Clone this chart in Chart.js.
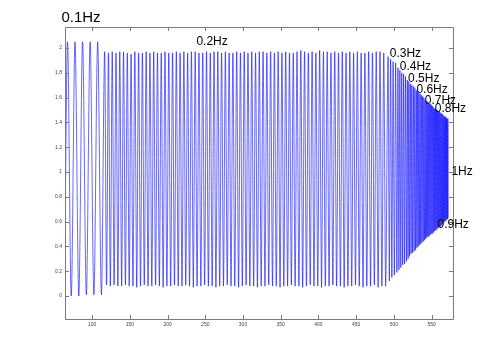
<!DOCTYPE html>
<html>
<head>
<meta charset="utf-8">
<script src="https://cdn.jsdelivr.net/npm/chart.js@4.4.1/dist/chart.umd.min.js"></script>
<style>
  html, body { margin: 0; padding: 0; background: #fff; }
  #wrap { width: 500px; height: 359px; }
</style>
</head>
<body>
<div id="wrap"><canvas id="chart" width="500" height="359"></canvas></div>
<script>
// frequency steps of the test signal, in the order they were played
const segFreq = [0.1, 0.2, 0.3, 0.4, 0.5, 0.6, 0.7, 0.8, 0.9, 1];
// x where each step starts (upward crossing before its first peak)
const segStart = [64.8, 115.35, 491.5, 504.83, 517.33, 529.33, 541.0, 552.43, 564.93, 569.37];

// peak / trough of every cycle
const segPeaks = [
  [2.05, 2.05, 2.05, 2.05, 2.05],
  [1.97, 1.96, 1.97, 1.96, 1.97, 1.97, 1.96, 1.95, 1.97, 1.96,
   1.96, 1.97, 1.96, 1.97, 1.96, 1.96, 1.97, 1.96, 1.96, 1.97,
   1.96, 1.97, 1.96, 1.97, 1.97, 1.96, 1.96, 1.97, 1.96, 1.97,
   1.97, 1.96, 1.97, 1.96, 1.96, 1.97, 1.96, 1.97, 1.96, 1.97,
   1.96, 1.97, 1.97, 1.96, 1.97, 1.96, 1.97, 1.96, 1.97, 1.96,
   1.96, 1.97, 1.98, 1.97, 1.96, 1.97, 1.96, 1.98, 1.97, 1.97,
   1.96, 1.97, 1.96, 1.97, 1.96, 1.97, 1.96, 1.97, 1.96, 1.96,
   1.97, 1.96, 1.97, 1.97, 1.96],
  [1.93, 1.91, 1.89, 1.88],
  [1.84, 1.82, 1.80, 1.79, 1.77],
  [1.74, 1.73, 1.71, 1.70, 1.69, 1.68],
  [1.66, 1.65, 1.64, 1.63, 1.62, 1.61, 1.60],
  [1.58, 1.57, 1.57, 1.56, 1.55, 1.55, 1.54, 1.53],
  [1.52, 1.51, 1.51, 1.50, 1.50, 1.49, 1.49, 1.48, 1.47, 1.47],
  [1.46, 1.45, 1.45, 1.44],
  [1.44, 1.43, 1.43]
];
const segTroughs = [
  [0.00, 0.00, 0.01, 0.01, 0.01],
  [0.09, 0.08, 0.09, 0.08, 0.08, 0.09, 0.08, 0.08, 0.07, 0.08,
   0.09, 0.08, 0.08, 0.09, 0.08, 0.07, 0.08, 0.08, 0.09, 0.08,
   0.08, 0.09, 0.08, 0.07, 0.08, 0.08, 0.09, 0.08, 0.08, 0.07,
   0.08, 0.08, 0.09, 0.08, 0.08, 0.07, 0.08, 0.09, 0.08, 0.08,
   0.07, 0.08, 0.08, 0.09, 0.08, 0.08, 0.07, 0.08, 0.08, 0.09,
   0.08, 0.08, 0.07, 0.08, 0.09, 0.08, 0.08, 0.07, 0.08, 0.08,
   0.09, 0.08, 0.08, 0.07, 0.08, 0.08, 0.09, 0.08, 0.07, 0.08,
   0.08, 0.09, 0.07, 0.08, 0.08],
  [0.12, 0.15, 0.17, 0.19],
  [0.21, 0.23, 0.25, 0.26, 0.28],
  [0.30, 0.32, 0.34, 0.35, 0.36, 0.37],
  [0.39, 0.40, 0.41, 0.42, 0.43, 0.44, 0.45],
  [0.46, 0.47, 0.48, 0.48, 0.49, 0.50, 0.50, 0.51],
  [0.52, 0.53, 0.53, 0.54, 0.55, 0.55, 0.56, 0.56, 0.57, 0.58],
  [0.59, 0.60, 0.60, 0.61],
  [0.62, 0.62, 0.63]
];
const firstSample = { x: 64, y: 0.5 };

// text labels placed in data units, like the original text() calls
const freqLabels = ['0.1Hz', '0.2Hz', '0.3Hz', '0.4Hz', '0.5Hz', '0.6Hz', '0.7Hz', '0.8Hz', '0.9Hz', '1Hz'];
const labelX = [59.2, 238.2, 494.5, 507.8, 518.8, 529.9, 540.9, 554.2, 557.8, 576.3];
const labelY = [2.209, 2.026, 1.927, 1.820, 1.726, 1.633, 1.551, 1.484, 0.548, 0.975];

const xTicks = [100, 150, 200, 250, 300, 350, 400, 450, 500, 550];
const yTicks = [0, 0.2, 0.4, 0.6, 0.8, 1, 1.2, 1.4, 1.6, 1.8, 2];

const points = [firstSample];
segFreq.forEach((f, s) => {
  const T = 1 / f;
  segPeaks[s].forEach((p, k) => {
    points.push({ x: segStart[s] + (k + 0.25) * T, y: p });
    points.push({ x: segStart[s] + (k + 0.75) * T, y: segTroughs[s][k] });
  });
});

const axisColor = '#7a7a7a';

// matlab-ish box with inward ticks on all four sides + the Hz labels
const boxPlugin = {
  id: 'box',
  afterDraw(chart) {
    const { ctx, chartArea: a, scales } = chart;
    const xs = scales.x, ys = scales.y;
    ctx.save();
    ctx.strokeStyle = axisColor;
    ctx.lineWidth = 1;
    ctx.beginPath();
    ctx.rect(Math.round(a.left) + 0.5, Math.round(a.top) + 0.5,
      Math.round(a.right - a.left), Math.round(a.bottom - a.top));
    xTicks.forEach(v => {
      const px = Math.round(xs.getPixelForValue(v)) + 0.5;
      ctx.moveTo(px, a.bottom); ctx.lineTo(px, a.bottom - 4);
      ctx.moveTo(px, a.top); ctx.lineTo(px, a.top + 4);
    });
    yTicks.forEach(v => {
      const py = Math.round(ys.getPixelForValue(v)) + 0.5;
      ctx.moveTo(a.left, py); ctx.lineTo(a.left + 4, py);
      ctx.moveTo(a.right, py); ctx.lineTo(a.right - 4, py);
    });
    ctx.stroke();

    ctx.fillStyle = '#000';
    ctx.textBaseline = 'alphabetic';
    ctx.textAlign = 'left';
    freqLabels.forEach((t, i) => {
      ctx.font = (i === 0 ? '15px' : '12px') + ' "Liberation Sans", Arial, sans-serif';
      ctx.fillText(t, xs.getPixelForValue(labelX[i]), ys.getPixelForValue(labelY[i]));
    });
    ctx.restore();
  }
};

new Chart(document.getElementById('chart'), {
  type: 'line',
  data: {
    datasets: [{
      data: points,
      borderColor: '#0000ff',
      borderWidth: 0.6,
      pointRadius: 0,
      fill: false,
      cubicInterpolationMode: 'monotone'
    }]
  },
  options: {
    responsive: false,
    animation: false,
    events: [],
    layout: { padding: { top: 27, right: 47, left: 0, bottom: 0 } },
    plugins: { legend: { display: false }, tooltip: { enabled: false } },
    scales: {
      x: {
        type: 'linear',
        min: 64,
        max: 578.4,
        afterBuildTicks: s => { s.ticks = xTicks.map(v => ({ value: v })); },
        afterFit: s => { s.height = 40; },
        grid: { display: false, drawTicks: false },
        border: { display: false },
        ticks: {
          padding: 3,
          maxRotation: 0,
          autoSkip: false,
          color: '#444',
          font: { family: '"Liberation Sans", Arial, sans-serif', size: 5 },
          callback: v => String(v)
        }
      },
      y: {
        type: 'linear',
        min: -0.185,
        max: 2.169,
        afterBuildTicks: s => { s.ticks = yTicks.map(v => ({ value: v })); },
        afterFit: s => { s.width = 65; },
        grid: { display: false, drawTicks: false },
        border: { display: false },
        ticks: {
          padding: 3,
          autoSkip: false,
          color: '#444',
          font: { family: '"Liberation Sans", Arial, sans-serif', size: 5 },
          callback: v => String(+v.toFixed(1))
        }
      }
    }
  },
  plugins: [boxPlugin]
});
</script>
</body>
</html>
